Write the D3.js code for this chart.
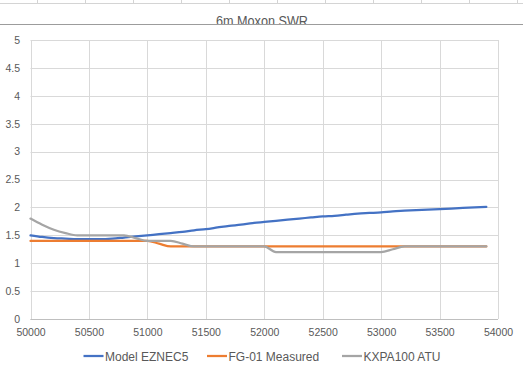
<!DOCTYPE html>
<html>
<head>
<meta charset="utf-8">
<script src="https://cdn.jsdelivr.net/npm/d3@7"></script>
<style>
body { margin: 0; background: #fff; }
svg { display: block; font-family: "Liberation Sans", Arial, sans-serif; }
</style>
</head>
<body>
<div id="chart"></div>
<script>
// chart data
var freqs = [50000, 50100, 50200, 50300, 50400, 50500, 50600, 50700, 50800, 50900,
             51000, 51100, 51200, 51300, 51400, 51500, 51600, 51700, 51800, 51900,
             52000, 52100, 52200, 52300, 52400, 52500, 52600, 52700, 52800, 52900,
             53000, 53100, 53200, 53300, 53400, 53500, 53600, 53700, 53800, 53900];

var modelEznec = [1.50, 1.47, 1.45, 1.44, 1.43, 1.43, 1.43, 1.44, 1.46, 1.48,
                  1.50, 1.52, 1.54, 1.56, 1.59, 1.61, 1.64, 1.67, 1.69, 1.72,
                  1.74, 1.76, 1.78, 1.80, 1.82, 1.84, 1.85, 1.87, 1.89, 1.90,
                  1.91, 1.93, 1.94, 1.95, 1.96, 1.97, 1.98, 1.99, 2.00, 2.01];

var fgMeasured = [1.4, 1.4, 1.4, 1.4, 1.4, 1.4, 1.4, 1.4, 1.4, 1.4,
                  1.4, 1.35, 1.3, 1.3, 1.3, 1.3, 1.3, 1.3, 1.3, 1.3,
                  1.3, 1.3, 1.3, 1.3, 1.3, 1.3, 1.3, 1.3, 1.3, 1.3,
                  1.3, 1.3, 1.3, 1.3, 1.3, 1.3, 1.3, 1.3, 1.3, 1.3];

var kxpaAtu = [1.8, 1.69, 1.6, 1.54, 1.5, 1.5, 1.5, 1.5, 1.5, 1.45,
               1.4, 1.4, 1.4, 1.35, 1.3, 1.3, 1.3, 1.3, 1.3, 1.3,
               1.3, 1.2, 1.2, 1.2, 1.2, 1.2, 1.2, 1.2, 1.2, 1.2,
               1.2, 1.25, 1.3, 1.3, 1.3, 1.3, 1.3, 1.3, 1.3, 1.3];

var seriesNames = ["Model EZNEC5", "FG-01 Measured", "KXPA100 ATU"];
var seriesColors = ["#4472c4", "#ed7d31", "#a5a5a5"];

var xTicks = [50000, 50500, 51000, 51500, 52000, 52500, 53000, 53500, 54000];
var yTicks = [0, 0.5, 1, 1.5, 2, 2.5, 3, 3.5, 4, 4.5, 5];

// init size
var width = 523;
var height = 373;
var plotLeft = 30.5, plotRight = 498, plotTop = 40, plotBottom = 319;

var svg = d3.select("#chart")
    .append("svg")
    .attr("width", width)
    .attr("height", height);

// init scales
var x = d3.scaleLinear().domain([50000, 54000]).range([plotLeft, plotRight]);
var y = d3.scaleLinear().domain([0, 5]).range([plotBottom, plotTop]);

// spreadsheet cell borders above the chart
var cellLines = svg.append("g").attr("stroke", "#d4d4d4").attr("stroke-width", 1);
cellLines.append("line").attr("x1", 0).attr("x2", width).attr("y1", 3.5).attr("y2", 3.5);
d3.range(37.5, width, 48).forEach(function(cx) {
    cellLines.append("line").attr("x1", cx).attr("x2", cx).attr("y1", 0).attr("y2", 3.5);
});

// title, clipped at the row border
svg.append("clipPath").attr("id", "titleClip")
    .append("rect").attr("x", 0).attr("y", 0).attr("width", width).attr("height", 24);

svg.append("text")
    .attr("clip-path", "url(#titleClip)")
    .attr("x", 262)
    .attr("y", 26)
    .attr("text-anchor", "middle")
    .attr("fill", "#595959")
    .attr("font-size", "15px")
    .attr("textLength", 92)
    .attr("lengthAdjust", "spacingAndGlyphs")
    .text("6m Moxon SWR");

svg.append("line")
    .attr("x1", 0).attr("x2", width)
    .attr("y1", 24.5).attr("y2", 24.5)
    .attr("stroke", "#9c9c9c")
    .attr("stroke-width", 1);

// gridlines
var grid = svg.append("g").attr("stroke", "#d9d9d9").attr("stroke-width", 1);

grid.selectAll("line.h")
    .data(yTicks)
    .enter().append("line")
    .attr("class", "h")
    .attr("x1", plotLeft).attr("x2", plotRight)
    .attr("y1", d => Math.round(y(d)) + 0.5)
    .attr("y2", d => Math.round(y(d)) + 0.5);

grid.selectAll("line.v")
    .data(xTicks)
    .enter().append("line")
    .attr("class", "v")
    .attr("x1", d => Math.round(x(d)) + 0.5)
    .attr("x2", d => Math.round(x(d)) + 0.5)
    .attr("y1", plotTop).attr("y2", plotBottom);

// axes
var xAxis = svg.append("g")
    .attr("transform", "translate(0," + (Math.round(plotBottom) + 0.5) + ")")
    .call(d3.axisBottom(x).tickValues(xTicks).tickSize(0).tickPadding(9).tickFormat(d3.format("d")));

var yAxis = svg.append("g")
    .attr("transform", "translate(" + (plotLeft - 10.5) + ",0)")
    .call(d3.axisLeft(y).tickValues(yTicks).tickSize(0).tickPadding(0).tickFormat(d => String(d)));

[xAxis, yAxis].forEach(function(ax) {
    ax.select(".domain").remove();
    ax.selectAll("text")
        .attr("fill", "#595959")
        .attr("font-size", "10.5px")
        .attr("font-family", "Liberation Sans, Arial, sans-serif");
});

svg.append("line")
    .attr("x1", plotLeft).attr("x2", plotRight)
    .attr("y1", Math.round(plotBottom) + 0.5).attr("y2", Math.round(plotBottom) + 0.5)
    .attr("stroke", "#bfbfbf");

// series lines
var seriesData = [modelEznec, fgMeasured, kxpaAtu];

var line = d3.line()
    .x((d, i) => x(freqs[i]))
    .y(d => y(d))
    .curve(d3.curveMonotoneX);

svg.append("g")
    .selectAll("path")
    .data(seriesData)
    .enter().append("path")
    .attr("d", line)
    .attr("fill", "none")
    .attr("stroke", (d, i) => seriesColors[i])
    .attr("stroke-width", 2.25)
    .attr("stroke-linejoin", "round")
    .attr("stroke-linecap", "round");

// legend
var legendX = [83.5, 207, 342];
var legend = svg.append("g")
    .selectAll("g")
    .data(seriesNames)
    .enter().append("g")
    .attr("transform", (d, i) => "translate(" + legendX[i] + ",356)");

legend.append("line")
    .attr("x1", 0).attr("x2", 20)
    .attr("stroke", (d, i) => seriesColors[i])
    .attr("stroke-width", 2.25);

legend.append("text")
    .attr("x", 21.5)
    .attr("y", 4.5)
    .attr("fill", "#595959")
    .attr("font-size", "12px")
    .text(d => d);
</script>
</body>
</html>
